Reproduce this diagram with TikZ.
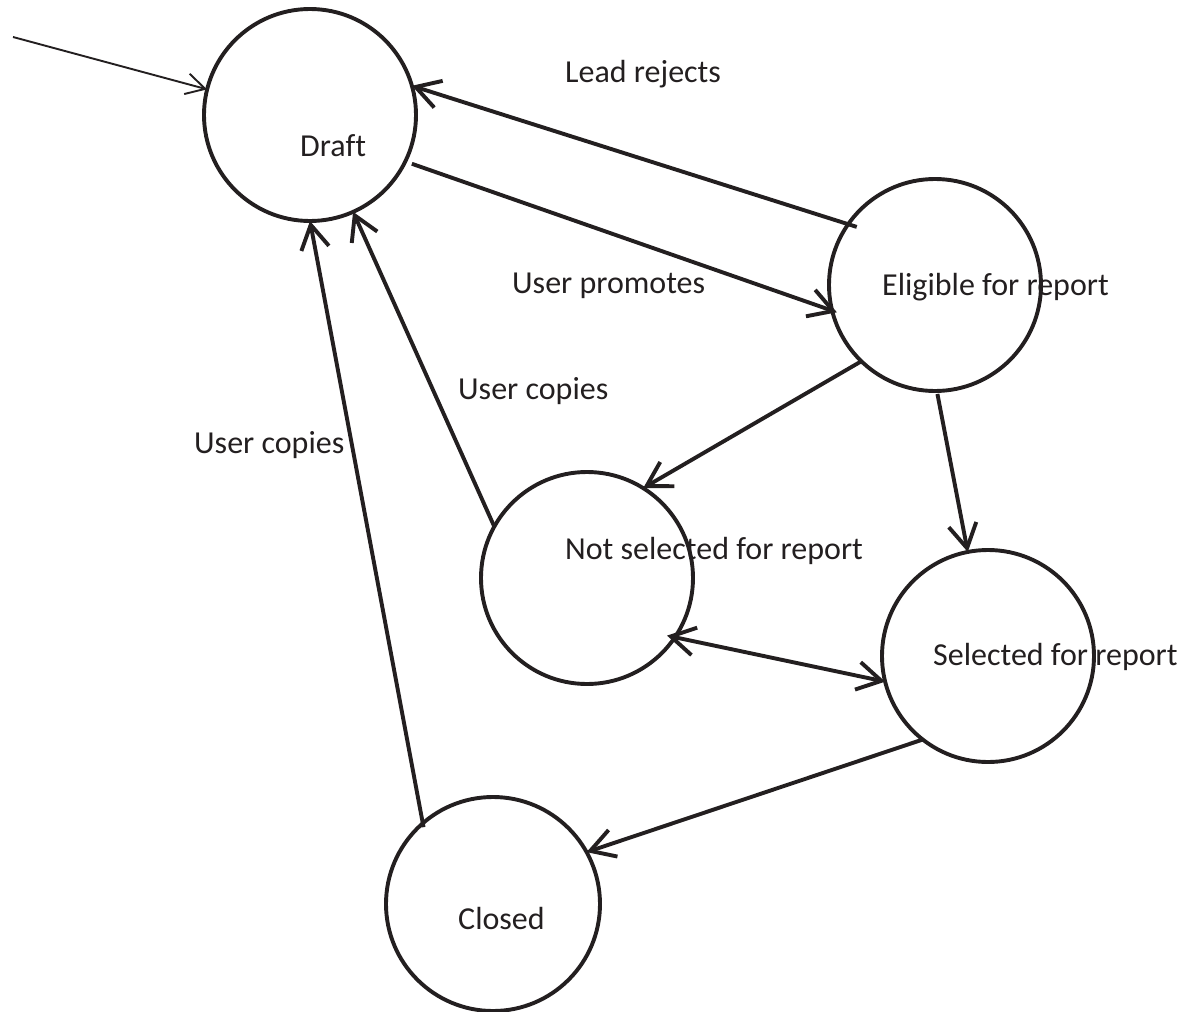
\documentclass[tikz,border=0pt]{standalone}
\usepackage{fontspec}
\setmainfont{Carlito}[Ligatures=NoCommon]
\usetikzlibrary{arrows.meta}
\definecolor{ink}{RGB}{35,31,32}
\begin{document}
\begin{tikzpicture}[x=1pt,y=-1pt,
  state/.style={circle,draw=ink,line width=3.9pt,minimum size=212pt,inner sep=0pt,outer sep=0pt},
  lbl/.style={anchor=base west,inner sep=0pt,font=\fontsize{32}{38}\selectfont,text=ink},
  barb/.tip={Straight Barb[length=24pt,width=28pt]},
  conn/.style={draw=ink,line width=3.9pt,-barb},
  initarrow/.style={draw=ink,line width=1.9pt,-{Straight Barb[length=19pt,width=21pt]}}
]
\useasboundingbox (0,0) rectangle (1192,1012);
% states
\node[state] (draft) at (310,115) {};
\node[state] (elig) at (935,285) {};
\node[state] (notsel) at (587,578) {};
\node[state] (sel) at (988,656) {};
\node[state,minimum size=214pt] (closed) at (493,904) {};
% state texts
\node[lbl] (tdraft) at (300,156) {Draft};
\node[lbl] (telig) at (882,295) {Eligible for report};
\node[lbl] (tnotsel) at (565,559) {Not selected for report};
\node[lbl] (tsel) at (933,665) {Selected for report};
\node[lbl] (tclosed) at (458,929) {Closed};
% edge labels
\node[lbl] (llead) at (565,82) {Lead rejects};
\node[lbl] (lprom) at (512,293) {User promotes};
\node[lbl] (lcopy1) at (458,399) {User copies};
\node[lbl] (lcopy2) at (194,453) {User copies};
% initial arrow
\coordinate (start) at (13,37);
\draw[initarrow] (start) -- (draft.166);
% transitions
\draw[conn,shorten <=-9pt] (elig.145) -- (draft.16);
\draw[conn,shorten <=7pt,shorten >=-5pt] (draft.-26) -- (elig.194);
\draw[conn] (elig.226) -- (notsel.58);
\draw[conn,shorten <=3pt] (elig.-89) -- (sel.101.5);
\draw[conn] (notsel.151.5) -- (draft.-66);
\draw[conn,barb-barb,shorten <=-8pt] (notsel.-34) -- (sel.194);
\draw[conn] (sel.232) -- (closed.29);
\draw[conn,shorten <=-4pt] (closed.131) -- (draft.-90);
\end{tikzpicture}
\end{document}
